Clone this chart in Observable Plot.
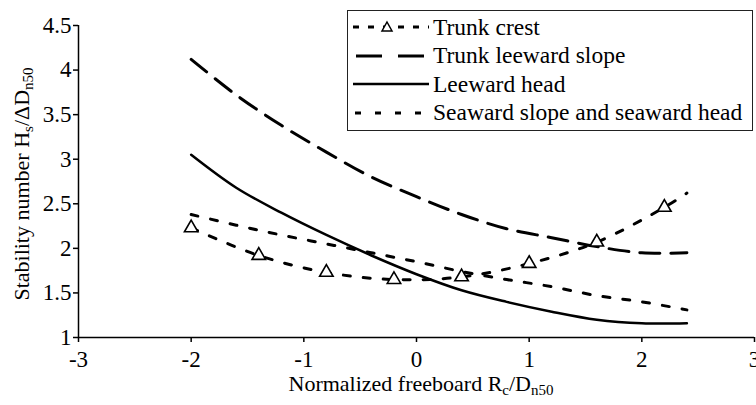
<!DOCTYPE html>
<html>
<head>
<meta charset="utf-8">
<script src="https://cdn.jsdelivr.net/npm/d3@7"></script>
<script src="https://cdn.jsdelivr.net/npm/@observablehq/plot@0.6"></script>
<style>
  html, body { margin: 0; padding: 0; background: #fff; }
  #wrap { position: relative; width: 756px; height: 405px; overflow: hidden; font-family: "Liberation Serif", "DejaVu Serif", serif; color: #000; }
  .ylab { position: absolute; left: 22px; top: 184px; transform: translate(-50%, -50%) rotate(-90deg); white-space: nowrap; font-size: 22px; }
  .xlab { position: absolute; left: 421px; top: 384px; transform: translate(-50%, -50%); white-space: nowrap; font-size: 22px; }
  sub { font-size: 15px; vertical-align: -4px; line-height: 0; }
  #legend { position: absolute; left: 347px; top: 10px; width: 406px; height: 121px; border: 1.5px solid #222; background: #fff; box-sizing: border-box; }
  .row { position: absolute; left: 3px; height: 28px; display: flex; align-items: center; font-size: 23.5px; white-space: nowrap; }
  .row svg { display: block; margin-right: 2px; }
</style>
</head>
<body>
<div id="wrap"></div>
<script>
// ---- data ----
const xTicks = [-3, -2, -1, 0, 1, 2, 3];
const yTicks = [1, 1.5, 2, 2.5, 3, 3.5, 4, 4.5];

const crestX = [-2, -1.4, -0.8, -0.2, 0.4, 1.0, 1.6, 2.2, 2.4];
const crestY = [2.23, 1.92, 1.73, 1.65, 1.68, 1.83, 2.07, 2.46, 2.62];
const crestMarkerCount = 8;

const curveX = [-2, -1.6, -1.2, -0.8, -0.4, 0, 0.4, 0.8, 1.2, 1.6, 2.0, 2.4];
const leeSlopeY = [4.12, 3.72, 3.38, 3.08, 2.80, 2.58, 2.38, 2.22, 2.12, 2.02, 1.95, 1.95];
const leeHeadY  = [3.05, 2.68, 2.40, 2.15, 1.92, 1.71, 1.53, 1.40, 1.29, 1.20, 1.16, 1.16];
const seawardY  = [2.38, 2.26, 2.15, 2.05, 1.95, 1.85, 1.74, 1.65, 1.57, 1.47, 1.40, 1.31];

const seriesNames = ["Trunk crest", "Trunk leeward slope", "Leeward head", "Seaward slope and seaward head"];

// ---- tables ----
const crest = crestX.map((x, i) => ({x, y: crestY[i]}));
const crestMarkers = crest.slice(0, crestMarkerCount);
const leeSlope = curveX.map((x, i) => ({x, y: leeSlopeY[i]}));
const leeHead = curveX.map((x, i) => ({x, y: leeHeadY[i]}));
const seaward = curveX.map((x, i) => ({x, y: seawardY[i]}));

const fmt = d => String(d);
const serif = '"Liberation Serif", "DejaVu Serif", serif';

const chart = Plot.plot({
  width: 756,
  height: 405,
  marginLeft: 78,
  marginRight: 2,
  marginTop: 25,
  marginBottom: 68,
  style: { fontFamily: serif, fontSize: "23px", background: "#fff", color: "#000", overflow: "visible" },
  x: { domain: [-3, 3] },
  y: { domain: [1, 4.5] },
  marks: [
    Plot.axisX({ ticks: xTicks, tickFormat: fmt, tickSize: 5, tickPadding: 8, label: null, stroke: "#000", strokeWidth: 1.5, fill: "#000", fontSize: 23 }),
    Plot.axisY({ ticks: yTicks, tickFormat: fmt, tickSize: 5, tickPadding: 2, label: null, stroke: "#000", strokeWidth: 1.5, fill: "#000", fontSize: 23 }),
    Plot.ruleX([-3], { y1: 1, y2: 4.5, stroke: "#000", strokeWidth: 1.5 }),
    Plot.ruleY([1], { x1: -3, x2: 3, stroke: "#000", strokeWidth: 1.5 }),
    Plot.line(leeSlope, { x: "x", y: "y", curve: "catmull-rom", stroke: "#000", strokeWidth: 3, strokeDasharray: "20,11" }),
    Plot.line(leeHead, { x: "x", y: "y", curve: "catmull-rom", stroke: "#000", strokeWidth: 2.5 }),
    Plot.line(seaward, { x: "x", y: "y", curve: "catmull-rom", stroke: "#000", strokeWidth: 3, strokeDasharray: "7,13" }),
    Plot.line(crest, { x: "x", y: "y", curve: "catmull-rom", stroke: "#000", strokeWidth: 3, strokeDasharray: "7,13" }),
    Plot.dot(crestMarkers, { x: "x", y: "y", symbol: "triangle", r: 5, stroke: "#000", fill: "#fff", strokeWidth: 1.6 })
  ]
});

const wrap = document.getElementById("wrap");
wrap.appendChild(chart);

// axis titles
const yl = document.createElement("div");
yl.className = "ylab";
yl.innerHTML = "Stability number H<sub>s</sub>/ΔD<sub>n50</sub>";
wrap.appendChild(yl);
const xl = document.createElement("div");
xl.className = "xlab";
xl.innerHTML = "Normalized freeboard R<sub>c</sub>/D<sub>n50</sub>";
wrap.appendChild(xl);

// legend
const legend = document.createElement("div");
legend.id = "legend";
wrap.appendChild(legend);
const samples = [
  '<line x1="2" y1="14" x2="78" y2="14" stroke="#000" stroke-width="3" stroke-dasharray="6,9"/><path d="M36,9 L41,18 L31,18 Z" fill="#fff" stroke="#000" stroke-width="1.5"/>',
  '<line x1="5" y1="14" x2="78" y2="14" stroke="#000" stroke-width="3" stroke-dasharray="26,16"/>',
  '<line x1="2" y1="14" x2="78" y2="14" stroke="#000" stroke-width="2.5"/>',
  '<line x1="4" y1="14" x2="78" y2="14" stroke="#000" stroke-width="3" stroke-dasharray="6,14"/>'
];
seriesNames.forEach((name, i) => {
  const r = document.createElement("div");
  r.className = "row";
  r.style.top = (2 + i * 28.5) + "px";
  r.innerHTML = `<svg width="80" height="28">${samples[i]}</svg><span>${name}</span>`;
  legend.appendChild(r);
});
</script>
</body>
</html>
